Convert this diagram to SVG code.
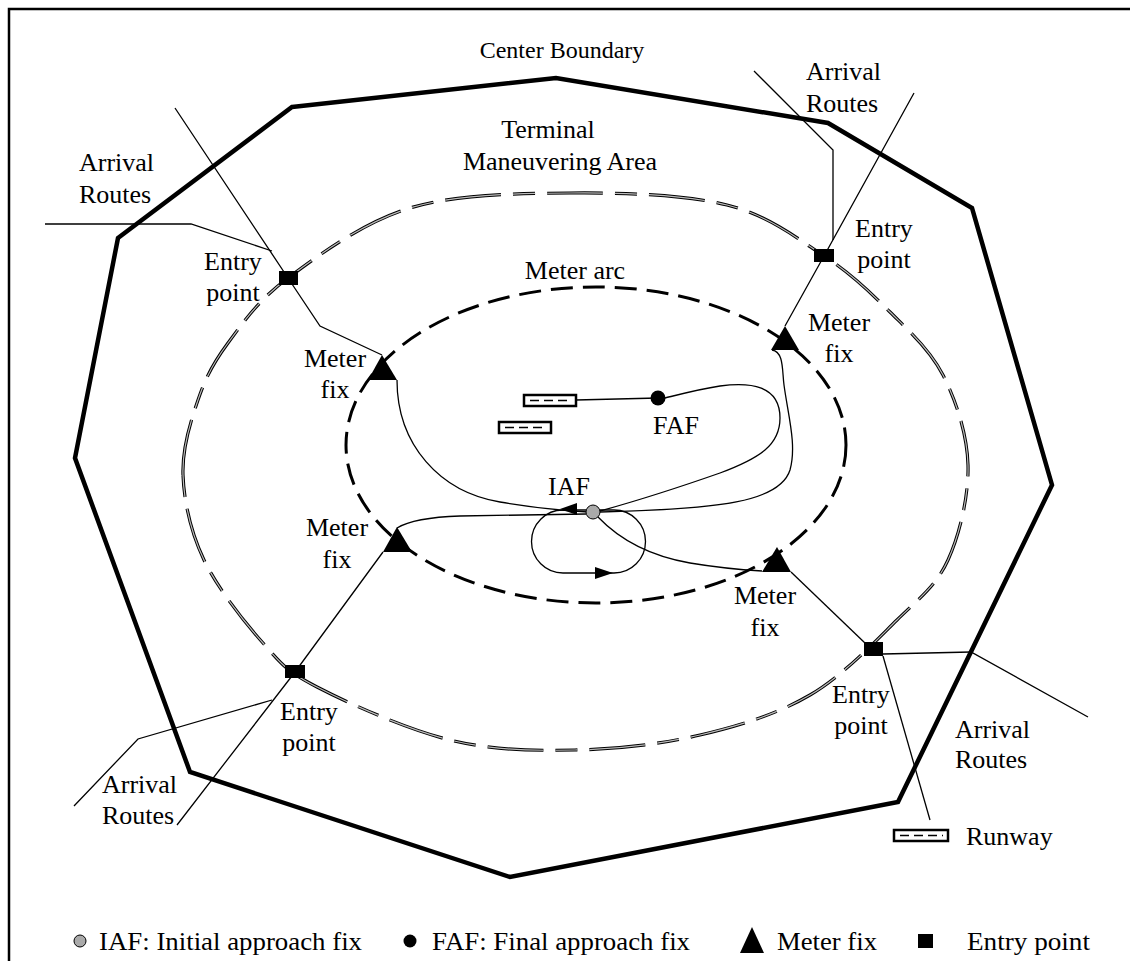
<svg xmlns="http://www.w3.org/2000/svg" width="1130" height="961" viewBox="0 0 1130 961">
<style>
text{font-family:"Liberation Serif","Times New Roman",serif;font-size:26px;fill:#000}
.m{text-anchor:middle}
.thin{fill:none;stroke:#000;stroke-width:1.3}
.tmaA{fill:none;stroke:#000;stroke-width:3.2;stroke-dasharray:56 12 22 12}
.tmaB{fill:none;stroke:#bbb;stroke-width:1.2;stroke-dasharray:56 12 22 12}
.arc{fill:none;stroke:#000;stroke-width:3;stroke-dasharray:22 10}
.tri{fill:#000}
.ent{fill:#000}
.rw{fill:#fff;stroke:#000;stroke-width:2.5}
.rwd{stroke:#000;stroke-width:1.5;stroke-dasharray:9 5}
</style>
<defs>
<path id="tmaPath" d="M183,475 C182,448.3 190.5,422 198,400 C205.5,378 213,363.3 228,343 C243,322.7 257.7,300.5 288,278 C318.3,255.5 363,222.2 410,208 C457,193.8 517.2,193.5 570,193 C622.8,192.5 684.7,194.5 727,205 C769.3,215.5 796.8,238.2 824,256 C851.2,273.8 870.2,292.2 890,312 C909.8,331.8 930,349.5 943,375 C956,400.5 967.2,434.2 968,465 C968.8,495.8 959.8,534.2 948,560 C936.2,585.8 920,597.5 897,620 C874,642.5 842.8,675.8 810,695 C777.2,714.2 739.2,725.8 700,735 C660.8,744.2 616.7,749.2 575,750 C533.3,750.8 493,750.5 450,740 C407,729.5 348.2,703.2 317,687 C285.8,670.8 281.8,664.2 263,643 C244.2,621.8 217.3,588 204,560 C190.7,532 184,501.7 183,475 Z"/>
</defs>
<rect x="9" y="9" width="1140" height="970" fill="#fff" stroke="#000" stroke-width="2.5"/>
<g id="center-boundary">
<polygon points="292,107 556,78 828,123 972,208 1052,485 898,802 510,877 190,772 75,458 118,238" fill="none" stroke="#000" stroke-width="4.5" stroke-linejoin="miter"/>
<text class="m" x="562" y="58" style="font-size:24px">Center Boundary</text>
</g>
<g id="tma">
<use href="#tmaPath" class="tmaA"/>
<use href="#tmaPath" class="tmaB"/>
<text class="m" x="548" y="138">Terminal</text>
<text class="m" x="560" y="170">Maneuvering Area</text>
</g>
<g id="meter-arc">
<ellipse cx="596" cy="445" rx="250" ry="158" class="arc"/>
<text class="m" x="575" y="279">Meter arc</text>
</g>
<g id="connectors">
<polyline class="thin" points="175,108 288,278 320,326 382,355"/>
<polyline class="thin" points="45,224 191,224 272,251"/>
<polyline class="thin" points="754,71 833,150 833,240"/>
<polyline class="thin" points="914,93 824,256 785,326"/>
<polyline class="thin" points="74,806 138,739 272,700"/>
<polyline class="thin" points="177,825 295,672 383,552"/>
<polyline class="thin" points="791,572 866,644"/>
<polyline class="thin" points="883,654 971,652 1088,717"/>
<polyline class="thin" points="883,656 930,820"/>
<path class="thin" d="M397,380 C397,445 440,492 500,502 C540,509 570,511 588,512"/>
<path class="thin" d="M397,528 C410,520 430,517 460,516 L586,514"/>
<path class="thin" d="M772,350 C784,352 782,370 784,385 C788,415 797,445 790,470 C780,502 720,509 600,512"/>
<path class="thin" d="M600,511 C640,500 680,487 720,473 C760,458 780,445 780,418 C780,385 750,382 720,386 C700,389 685,393 665,398"/>
<path class="thin" d="M598,517 C620,540 650,556 690,563 C720,568 745,570 762,571"/>
<line class="thin" x1="658" y1="398" x2="576" y2="400"/>
<path class="thin" d="M614,510 L563,510 A31.5,31.5 0 0 0 563,573 L614,573 A31.5,31.5 0 0 0 614,510"/>
<polygon points="560,509 577,503 577,515" fill="#000"/>
<polygon points="613,573 595,567 595,579" fill="#000"/>
</g>
<g id="entry-tl"><rect class="ent" x="279" y="271" width="19" height="14"/>
<text class="m" x="233" y="270">Entry</text><text class="m" x="233" y="301">point</text></g>
<g id="entry-tr"><rect class="ent" x="814" y="249" width="20" height="13"/>
<text class="m" x="884" y="237">Entry</text><text class="m" x="884" y="268">point</text></g>
<g id="entry-bl"><rect class="ent" x="285" y="665" width="20" height="13"/>
<text class="m" x="309" y="720">Entry</text><text class="m" x="309" y="751">point</text></g>
<g id="entry-br"><rect class="ent" x="864" y="642" width="19" height="14"/>
<text class="m" x="861" y="703">Entry</text><text class="m" x="861" y="734">point</text></g>
<g id="meter-tl"><polygon class="tri" points="382,355 368,380 397,380"/>
<text class="m" x="335" y="367">Meter</text><text class="m" x="335" y="398">fix</text></g>
<g id="meter-tr"><polygon class="tri" points="785,326 771,350 799,350"/>
<text class="m" x="839" y="331">Meter</text><text class="m" x="839" y="362">fix</text></g>
<g id="meter-bl"><polygon class="tri" points="397,527 383,552 412,552"/>
<text class="m" x="337" y="536">Meter</text><text class="m" x="337" y="568">fix</text></g>
<g id="meter-br"><polygon class="tri" points="777,547 762,572 791,572"/>
<text class="m" x="765" y="604">Meter</text><text class="m" x="765" y="636">fix</text></g>
<g id="arrival-tl"><text x="79" y="171">Arrival</text><text x="79" y="203">Routes</text></g>
<g id="arrival-tr"><text x="806" y="80">Arrival</text><text x="806" y="112">Routes</text></g>
<g id="arrival-bl"><text x="102" y="793">Arrival</text><text x="102" y="824">Routes</text></g>
<g id="arrival-br"><text x="955" y="738">Arrival</text><text x="955" y="768">Routes</text></g>
<g id="runway-1"><rect class="rw" x="524" y="395" width="52" height="11"/><line class="rwd" x1="530" y1="400.5" x2="571" y2="400.5"/></g>
<g id="runway-2"><rect class="rw" x="499" y="422" width="52" height="11"/><line class="rwd" x1="505" y1="427.5" x2="546" y2="427.5"/></g>
<g id="faf"><circle cx="658" cy="398" r="7.5" fill="#000"/><text class="m" x="676" y="434">FAF</text></g>
<g id="iaf"><circle cx="593" cy="512" r="7" fill="#aaa" stroke="#000" stroke-width="1"/><text class="m" x="569" y="495">IAF</text></g>
<g id="legend">
<rect class="rw" x="894" y="830" width="54" height="11"/><line class="rwd" x1="900" y1="835.5" x2="943" y2="835.5"/>
<text x="966" y="845">Runway</text>
<circle cx="80" cy="941" r="6" fill="#aaa" stroke="#000" stroke-width="1"/>
<text x="99" y="950" textLength="263" lengthAdjust="spacingAndGlyphs">IAF: Initial approach fix</text>
<circle cx="410" cy="941" r="6.5" fill="#000"/>
<text x="432" y="950" textLength="258" lengthAdjust="spacingAndGlyphs">FAF: Final approach fix</text>
<polygon class="tri" points="752,927 740,953 764,953"/>
<text x="777" y="950" textLength="100" lengthAdjust="spacingAndGlyphs">Meter fix</text>
<rect class="ent" x="918" y="934" width="15" height="14"/>
<text x="967" y="950" textLength="123" lengthAdjust="spacingAndGlyphs">Entry point</text>
</g>
</svg>
